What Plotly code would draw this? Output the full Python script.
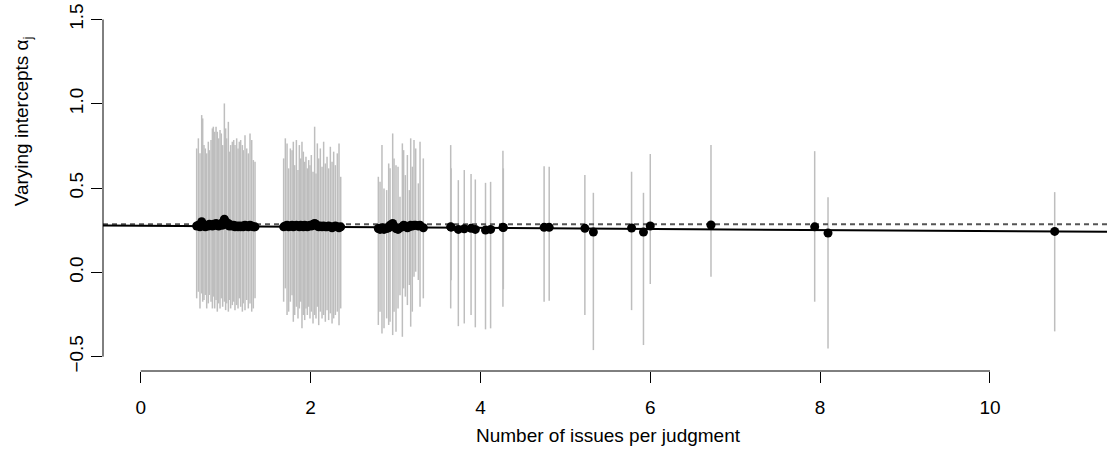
import plotly.graph_objects as go
import numpy as np

# ---- data: varying intercepts by number of issues per judgment ----
issues = [
    0.659, 0.679, 0.698, 0.718, 0.730, 0.745, 0.761, 0.777, 0.796, 0.808,
    0.828, 0.844, 0.855, 0.871, 0.887, 0.902, 0.918, 0.934, 0.949, 0.965,
    0.985, 1.000, 1.012, 1.032, 1.044, 1.059, 1.079, 1.095, 1.110, 1.130,
    1.146, 1.161, 1.177, 1.197, 1.208, 1.228, 1.248, 1.267, 1.287, 1.307,
    1.326, 1.346,
    1.683, 1.703, 1.723, 1.742, 1.762, 1.782, 1.797, 1.813, 1.833, 1.852,
    1.868, 1.884, 1.899, 1.915, 1.931, 1.946, 1.962, 1.978, 1.993, 2.009,
    2.029, 2.048, 2.064, 2.080, 2.096, 2.115, 2.135, 2.154, 2.174, 2.194,
    2.213, 2.233, 2.253, 2.272, 2.292, 2.315, 2.335, 2.355,
    2.798, 2.818, 2.841, 2.865, 2.896, 2.920, 2.936, 2.967, 2.983, 3.006,
    3.030, 3.053, 3.081, 3.096, 3.116, 3.140, 3.163, 3.179, 3.198, 3.218,
    3.238, 3.269, 3.289, 3.328,
    3.650, 3.655, 3.740, 3.810, 3.890, 3.940, 4.060, 4.120, 4.265, 4.270,
    4.750, 4.810, 5.230, 5.330, 5.780, 5.920, 6.000, 6.715, 7.936, 8.093,
    10.762,
]
alpha_est = [
    0.275, 0.280, 0.270, 0.300, 0.285, 0.275, 0.270, 0.280, 0.275, 0.285,
    0.280, 0.275, 0.285, 0.280, 0.290, 0.280, 0.275, 0.285, 0.290, 0.280,
    0.315, 0.300, 0.285, 0.290, 0.275, 0.280, 0.275, 0.280, 0.270, 0.275,
    0.270, 0.275, 0.270, 0.275, 0.270, 0.280, 0.275, 0.270, 0.280, 0.275,
    0.270, 0.270,
    0.270, 0.275, 0.280, 0.270, 0.275, 0.280, 0.270, 0.275, 0.280, 0.275,
    0.270, 0.280, 0.275, 0.270, 0.280, 0.275, 0.270, 0.275, 0.280, 0.275,
    0.285, 0.290, 0.285, 0.275, 0.270, 0.275, 0.270, 0.275, 0.270, 0.270,
    0.275, 0.270, 0.265, 0.270, 0.275, 0.270, 0.265, 0.270,
    0.260, 0.255, 0.265, 0.255, 0.260, 0.265, 0.280, 0.290, 0.275, 0.260,
    0.255, 0.265, 0.270, 0.280, 0.275, 0.265, 0.270, 0.280, 0.275, 0.280,
    0.280, 0.275, 0.280, 0.265,
    0.270, 0.268, 0.255, 0.259, 0.261, 0.255, 0.251, 0.255, 0.267, 0.266,
    0.267, 0.267, 0.261, 0.239, 0.263, 0.239, 0.275, 0.281, 0.270, 0.233,
    0.243,
]
alpha_hi = [
    0.735, 0.795, 0.706, 0.933, 0.913, 0.755, 0.735, 0.706, 0.775, 0.725,
    0.785, 0.854, 0.864, 0.834, 0.864, 0.834, 0.795, 0.844, 0.824, 0.755,
    1.002, 0.854, 0.795, 0.893, 0.716, 0.755, 0.775, 0.785, 0.755, 0.795,
    0.735, 0.775, 0.785, 0.755, 0.725, 0.814, 0.735, 0.706, 0.824, 0.785,
    0.666, 0.656,
    0.676, 0.795, 0.765, 0.617, 0.735, 0.725, 0.775, 0.636, 0.785, 0.607,
    0.755, 0.676, 0.775, 0.716, 0.656, 0.686, 0.617, 0.666, 0.636, 0.696,
    0.597, 0.864, 0.587, 0.765, 0.676, 0.735, 0.627, 0.775, 0.646, 0.686,
    0.617, 0.745, 0.656, 0.716, 0.636, 0.706, 0.765, 0.567,
    0.567, 0.538, 0.755, 0.498, 0.488, 0.646, 0.617, 0.824, 0.676, 0.636,
    0.627, 0.449, 0.765, 0.725, 0.577, 0.696, 0.488, 0.795, 0.627, 0.785,
    0.735, 0.528, 0.775, 0.676,
    0.755, 0.617, 0.547, 0.607, 0.583, 0.551, 0.531, 0.537, 0.721, 0.617,
    0.630, 0.626, 0.577, 0.472, 0.597, 0.472, 0.702, 0.755, 0.719, 0.445,
    0.476,
]
alpha_lo = [
    -0.154, -0.115, -0.214, -0.125, -0.174, -0.164, -0.134, -0.214, -0.184, -0.134,
    -0.174, -0.214, -0.144, -0.214, -0.164, -0.233, -0.184, -0.214, -0.154, -0.204,
    -0.174, -0.224, -0.184, -0.233, -0.164, -0.214, -0.194, -0.174, -0.224, -0.194,
    -0.214, -0.154, -0.204, -0.233, -0.184, -0.224, -0.164, -0.214, -0.184, -0.233,
    -0.214, -0.154,
    -0.174, -0.095, -0.253, -0.233, -0.174, -0.135, -0.293, -0.253, -0.204, -0.273,
    -0.214, -0.174, -0.332, -0.253, -0.283, -0.214, -0.253, -0.204, -0.273, -0.233,
    -0.303, -0.253, -0.273, -0.204, -0.313, -0.233, -0.273, -0.253, -0.293, -0.224,
    -0.283, -0.243, -0.303, -0.273, -0.253, -0.233, -0.313, -0.214,
    -0.312, -0.233, -0.362, -0.332, -0.273, -0.312, -0.293, -0.372, -0.233, -0.352,
    -0.214, -0.135, -0.382, -0.095, -0.144, -0.194, -0.075, -0.322, -0.233, -0.026,
    0.004, -0.045, -0.204, -0.154,
    -0.214, -0.046, -0.319, -0.303, -0.253, -0.326, -0.338, -0.332, -0.204, -0.100,
    -0.174, -0.168, -0.253, -0.461, -0.224, -0.431, -0.069, -0.026, -0.174, -0.451,
    -0.350,
]

grand_mean = 0.286          # dashed horizontal reference
reg_intercept = 0.276       # fitted line
reg_slope = -0.0031

x_ticks = [0, 2, 4, 6, 8, 10]
y_ticks = [-0.5, 0.0, 0.5, 1.0, 1.5]
y_ticktext = ["\u22120.5", "0.0", "0.5", "1.0", "1.5"]

x_range = [-0.444, 11.378]
y_range = [-0.585, 1.58]

FONT = "Liberation Sans, Arial, Helvetica, sans-serif"

est = np.array(alpha_est)
hi = np.array(alpha_hi)
lo = np.array(alpha_lo)

fig = go.Figure()

# credible intervals (grey segments)
fig.add_trace(go.Scatter(
    x=issues, y=alpha_est, mode="markers",
    marker=dict(color="rgba(0,0,0,0)", size=1),
    error_y=dict(type="data", symmetric=False, array=hi - est,
                 arrayminus=est - lo, width=0, thickness=1.5,
                 color="#BEBEBE"),
    hoverinfo="skip", showlegend=False,
))

# dashed grand-mean line
fig.add_trace(go.Scatter(
    x=x_range, y=[grand_mean, grand_mean], mode="lines",
    line=dict(color="#555555", width=2, dash="5px,4px"),
    showlegend=False, hoverinfo="skip",
))

# regression line
xr = np.array(x_range)
fig.add_trace(go.Scatter(
    x=xr, y=reg_intercept + reg_slope * xr, mode="lines",
    line=dict(color="black", width=2),
    showlegend=False, hoverinfo="skip",
))

# point estimates
fig.add_trace(go.Scatter(
    x=issues, y=alpha_est, mode="markers",
    marker=dict(color="black", size=9, line=dict(width=0)),
    showlegend=False,
))

fig.update_layout(
    width=1107, height=464,
    margin=dict(l=103, r=0, t=6, b=93),
    paper_bgcolor="white", plot_bgcolor="white",
    font=dict(family=FONT, size=19, color="black"),
    xaxis=dict(range=x_range, tickvals=x_ticks, ticks="outside",
               ticklen=11, tickwidth=1, tickcolor="black",
               showgrid=False, zeroline=False, showline=False,
               ticklabelstandoff=8,
               tickfont=dict(size=19)),
    yaxis=dict(range=y_range, tickvals=y_ticks, ticktext=y_ticktext,
               ticks="outside", ticklen=11, tickwidth=1, tickcolor="black",
               tickangle=-90, showgrid=False, zeroline=False, showline=False,
               tickfont=dict(size=19)),
    shapes=[
        dict(type="line", xref="x", yref="paper", x0=min(x_ticks), x1=max(x_ticks),
             y0=0, y1=0, line=dict(color="black", width=1)),
        dict(type="line", xref="paper", yref="y", x0=0, x1=0,
             y0=min(y_ticks), y1=max(y_ticks), line=dict(color="black", width=1)),
    ],
    annotations=[
        dict(text="Number of issues per judgment", xref="paper", yref="paper",
             x=0.503, y=-0.178, xanchor="center", yanchor="middle",
             showarrow=False, font=dict(size=19)),
        dict(text="Varying intercepts \u03b1<sub>j</sub>", xref="paper", yref="paper",
             x=-0.0797, y=0.684, xanchor="center", yanchor="middle",
             textangle=-90, showarrow=False, font=dict(size=19)),
    ],
)

fig.write_html("out.html")
